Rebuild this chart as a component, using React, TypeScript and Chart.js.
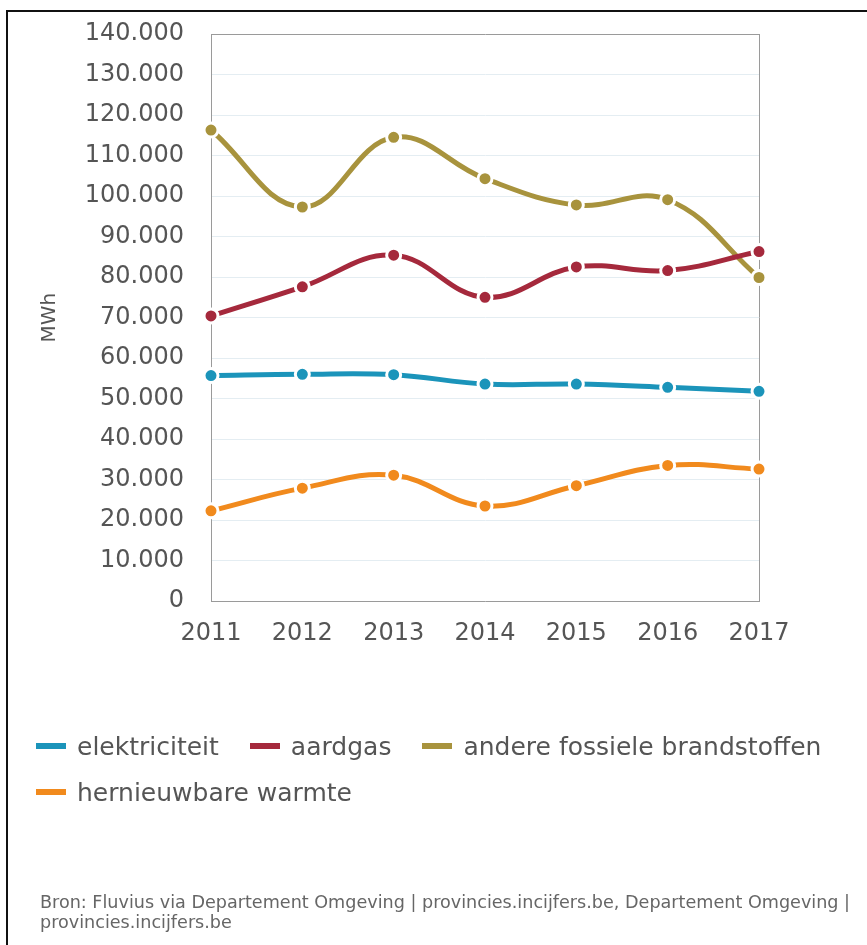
import React, { useEffect, useRef } from "react";
import { Chart, registerables } from "chart.js";

Chart.register(...registerables);

const years = ["2011", "2012", "2013", "2014", "2015", "2016", "2017"];
const elektriciteit = [55700, 56000, 55900, 53600, 53600, 52800, 51800];
const aardgas = [70400, 77600, 85400, 75000, 82500, 81600, 86300];
const andereFossiele = [116300, 97300, 114500, 104300, 97800, 99100, 79900];
const hernieuwbareWarmte = [22300, 27900, 31100, 23500, 28500, 33500, 32600];

const seriesNames = ["elektriciteit", "aardgas", "andere fossiele brandstoffen", "hernieuwbare warmte"];
const seriesColors = ["#1b94ba", "#a5293c", "#a8933d", "#f18a1d"];
const seriesData = [elektriciteit, aardgas, andereFossiele, hernieuwbareWarmte];

const yMin = 0;
const yMax = 140000;
const yStep = 10000;
const yTitle = "MWh";
const sourceLines = [
  "Bron: Fluvius via Departement Omgeving | provincies.incijfers.be, Departement Omgeving |",
  "provincies.incijfers.be",
];

const FONT = "'DejaVu Sans', 'Open Sans', sans-serif";

function fmt(v: number): string {
  return String(Math.round(v)).replace(/\B(?=(\d{3})+(?!\d))/g, ".");
}

export default function App() {
  const ref = useRef<HTMLCanvasElement | null>(null);

  useEffect(() => {
    if (!ref.current) return;
    const chart = new Chart(ref.current, {
      type: "line",
      data: {
        labels: years,
        datasets: seriesData.map((d, i) => ({
          label: seriesNames[i],
          data: d,
          borderColor: seriesColors[i],
          backgroundColor: seriesColors[i],
          borderWidth: 5,
          tension: 0.4,
          pointRadius: 7,
          pointBorderWidth: 3,
          pointBorderColor: "#ffffff",
          pointBackgroundColor: seriesColors[i],
          clip: false as any,
        })),
      },
      options: {
        responsive: false,
        animation: false,
        layout: { padding: { top: 34, right: 108, bottom: 14, left: 0 } },
        plugins: {
          legend: { display: false },
          tooltip: { enabled: false },
        },
        scales: {
          x: {
            grid: {
              drawTicks: false,
              color: (ctx: any) => (ctx.index === years.length - 1 ? "#9a9a9a" : "rgba(0,0,0,0)"),
            },
            border: { color: "#9a9a9a", width: 1 },
            ticks: {
              padding: 18,
              color: "#555555",
              font: { family: FONT, size: 24 },
              maxRotation: 0,
            },
          },
          y: {
            min: yMin,
            max: yMax,
            afterFit: (scale: any) => {
              scale.width = 211;
              scale.paddingTop = 0;
              scale.paddingBottom = 0;
            },
            grid: {
              drawTicks: false,
              color: (ctx: any) =>
                ctx.tick && ctx.tick.value === yMax ? "#9a9a9a" : "#e4edf2",
            },
            border: { color: "#9a9a9a", width: 1 },
            ticks: {
              stepSize: yStep,
              padding: 27,
              color: "#555555",
              font: { family: FONT, size: 24 },
              callback: (v: any) => fmt(Number(v)),
            },
            title: {
              display: true,
              text: yTitle,
              color: "#555555",
              font: { family: FONT, size: 20 },
              padding: { top: 38, bottom: 0 },
            },
          },
        },
      },
    });
    return () => chart.destroy();
  }, []);

  return (
    <div
      style={{
        position: "absolute",
        left: 0,
        top: 0,
        width: 867,
        height: 945,
        overflow: "hidden",
        background: "#ffffff",
      }}
    >
      <canvas
        ref={ref}
        width={867}
        height={680}
        style={{ position: "absolute", left: 0, top: 0, width: 867, height: 680 }}
      />
      <div
        style={{
          position: "absolute",
          left: 6,
          top: 10,
          width: 1000,
          height: 1000,
          borderLeft: "2px solid #111",
          borderTop: "2px solid #111",
          pointerEvents: "none",
        }}
      />
      <div
        style={{
          position: "absolute",
          left: 36,
          top: 723,
          width: 828,
          display: "flex",
          flexWrap: "wrap",
          fontFamily: FONT,
          fontSize: 25,
          color: "#555555",
        }}
      >
        {seriesNames.map((n, i) => (
          <div
            key={n}
            style={{ display: "flex", alignItems: "center", height: 46, marginRight: 31 }}
          >
            <span
              style={{
                display: "inline-block",
                width: 30,
                height: 6,
                background: seriesColors[i],
                marginRight: 11,
              }}
            />
            <span style={{ whiteSpace: "nowrap" }}>{n}</span>
          </div>
        ))}
      </div>
      <div
        style={{
          position: "absolute",
          left: 40,
          top: 892,
          fontFamily: FONT,
          fontSize: 17.6,
          lineHeight: "20px",
          color: "#666666",
          whiteSpace: "nowrap",
        }}
      >
        {sourceLines.map((l, i) => (
          <div key={i}>{l}</div>
        ))}
      </div>
    </div>
  );
}
